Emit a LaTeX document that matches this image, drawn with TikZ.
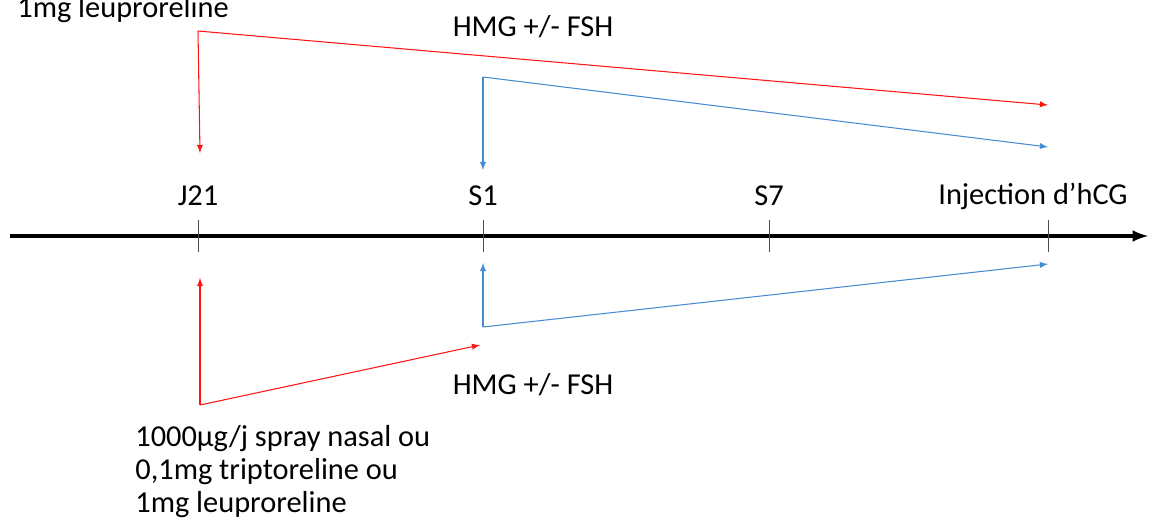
\documentclass[tikz,border=0pt]{standalone}
\usepackage{fontspec}
\setmainfont{Carlito}
\usepackage{tikz}
\usetikzlibrary{arrows}
\definecolor{agonred}{RGB}{255,20,20}
\definecolor{gonblue}{RGB}{70,140,210}
\tikzset{
  lbl/.style={font=\fontsize{17.3}{18.7}\selectfont, inner sep=0pt},
  redline/.style={agonred, line width=0.6pt},
  blueline/.style={gonblue, line width=0.6pt},
  tick/.style={line width=0.5pt, black!70}
}

\begin{document}
\begin{tikzpicture}[x=0.02cm, y=-0.02cm, >=latex]
\useasboundingbox (0,0) rectangle (1150,525);
\clip (0,0) rectangle (1150,525);

\coordinate (start) at (10,236);
\coordinate (end) at (1148,236);
\draw[line width=2pt, ->] (start) -- (end);

\foreach \x in {198, 483, 769, 1048} {
  \draw[tick] (\x,220) -- (\x,252);
}
\node[lbl] (j21) at (198,196) {J21};
\node[lbl] (s1) at (483,196) {S1};
\node[lbl] (s7) at (769,196) {S7};
\node[lbl] (hcg) at (1033,196) {Injection d’hCG};

\coordinate (rtop) at (198,31);
\coordinate (rtopdown) at (200,153);
\coordinate (rtopend) at (1048,105);
\draw[redline, ->] (rtop) -- (rtopdown);
\draw[redline, ->] (rtop) -- (rtopend);

\coordinate (btop) at (483,77);
\coordinate (btopdown) at (483,170);
\coordinate (btopend) at (1048,147);
\draw[blueline, ->] (btop) -- (btopdown);
\draw[blueline, ->] (btop) -- (btopend);

\coordinate (rbot) at (200,405);
\coordinate (rbotup) at (200,278);
\coordinate (rbotend) at (480,345);
\draw[redline, ->] (rbot) -- (rbotup);
\draw[redline, ->] (rbot) -- (rbotend);

\coordinate (bbot) at (483,327);
\coordinate (bbotup) at (483,263);
\coordinate (bbotend) at (1048,264);
\draw[blueline, ->] (bbot) -- (bbotup);
\draw[blueline, ->] (bbot) -- (bbotend);

\node[lbl] (hmgtop) at (533,27) {HMG +/- FSH};
\node[lbl] (hmgbot) at (533,385) {HMG +/- FSH};
\node[lbl, anchor=base west] (leutop) at (17,17) {1mg leuproreline};
\node[lbl, anchor=north west, align=left] (agonist) at (135,425)
  {1000µg/j spray nasal ou\\0,1mg triptoreline ou\\1mg leuproreline};
\end{tikzpicture}
\end{document}
